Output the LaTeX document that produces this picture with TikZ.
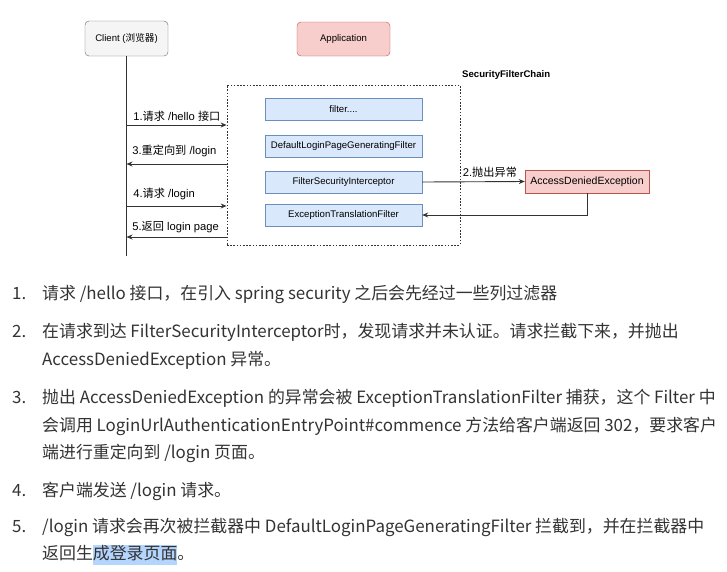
\documentclass[tikz,border=0pt]{standalone}
\usepackage{fontspec}
\setmainfont{Liberation Sans}
\newfontfamily\cjk{Noto Sans CJK SC}
\usetikzlibrary{positioning,arrows.meta,calc}
\definecolor{linegray}{HTML}{333333}
\definecolor{txtgray}{HTML}{333333}
\definecolor{grayfill}{HTML}{F5F5F5}
\definecolor{grayline}{HTML}{666666}
\definecolor{redfill}{HTML}{F8CECC}
\definecolor{redline}{HTML}{B85450}
\definecolor{bluefill}{HTML}{DAE8FC}
\definecolor{blueline}{HTML}{6C8EBF}
\definecolor{selblue}{HTML}{B4D5FE}
\newcommand\selmark[1]{{\setlength{\fboxsep}{0pt}\colorbox{selblue}{\strut #1}}}

\begin{document}
\begin{tikzpicture}[x=1pt, y=-1pt,
  actor/.style={draw=grayline, fill=grayfill, rounded corners=4pt, minimum width=83pt, minimum height=35pt, font=\fontsize{9.6}{11}\selectfont},
  appbox/.style={draw=redline, fill=redfill, rounded corners=4pt, minimum width=93pt, minimum height=34pt, font=\fontsize{9.6}{11}\selectfont},
  filterbox/.style={draw=blueline, fill=bluefill, minimum width=157pt, minimum height=22pt, font=\fontsize{9.6}{11}\selectfont},
  errbox/.style={draw=redline, fill=redfill, minimum width=124pt, minimum height=23pt, font=\fontsize{10.5}{12}\selectfont},
  lbl/.style={font=\fontsize{11.2}{13}\selectfont, text=black},
  arr/.style={draw=linegray, line width=0.9pt, -{Stealth[length=6pt,width=5pt]}},
  item/.style={anchor=base west, inner sep=0pt, text=txtgray, font=\cjk\fontsize{16.9}{20}\selectfont}
]
  \useasboundingbox (0,0) rectangle (727,571);

  % participants
  \node[actor] (client) at (126.5,38.5) {Client ({\cjk 浏览器})};
  \node[appbox] (app) at (343.5,39) {Application};

  % filter chain
  \node[draw=linegray, dash pattern=on 1.6pt off 1.6pt, line width=0.8pt, minimum width=233pt, minimum height=160pt] (chain) at (343.5,165) {};
  \node[anchor=south west, inner sep=2pt, font=\bfseries\fontsize{9.6}{11}\selectfont] (chainname) at (460,82) {SecurityFilterChain};
  \node[filterbox] (dots) at (343.5,109.5) {filter....};
  \node[filterbox] (dlpgf) at (343.5,146) {DefaultLoginPageGeneratingFilter};
  \node[filterbox] (fsi) at (343.5,182) {FilterSecurityInterceptor};
  \node[filterbox] (etf) at (343.5,215) {ExceptionTranslationFilter};
  \node[errbox] (ade) at (587,181.5) {AccessDeniedException};

  % lifeline
  \coordinate (lifeend) at (126.5,256);
  \draw[draw=linegray, line width=0.9pt] (client.south) -- (lifeend);
  \coordinate (m1) at (126.5,125);
  \coordinate (m3) at (126.5,164);
  \coordinate (m4) at (126.5,206);
  \coordinate (m5) at (126.5,237);

  % messages
  \draw[arr] (m1) -- node[lbl, pos=0, above right, xshift=3pt] {1.{\cjk 请求} /hello {\cjk 接口}} (m1 -| chain.west);
  \draw[arr] (m3 -| chain.west) -- node[lbl, pos=1, above right, xshift=2pt, yshift=3pt] {3.{\cjk 重定向到} /login} (m3);
  \draw[arr] (m4) -- node[lbl, pos=0, above right, xshift=3pt, yshift=2pt] {4.{\cjk 请求} /login} (m4 -| chain.west);
  \draw[arr] (m5 -| chain.west) -- node[lbl, pos=1, above right, xshift=2pt] {5.{\cjk 返回} login page} (m5);
  \draw[arr] (fsi.east) -- node[lbl, pos=1, anchor=south east, xshift=-4pt] {2.{\cjk 抛出异常}} (ade.west);
  \draw[arr] (ade.south) |- (etf.east);

  % steps
  \node[item] (n1) at (12,299) {1.};
  \node[item] (t1) at (42,299) {请求 /hello 接口，在引入 spring security 之后会先经过一些列过滤器};
  \node[item] (n2) at (12,337) {2.};
  \node[item] (t2) at (42,337) {在请求到达 FilterSecurityInterceptor时，发现请求并未认证。请求拦截下来，并抛出};
  \node[item] (t2b) at (42,365) {AccessDeniedException 异常。};
  \node[item] (n3) at (12,403) {3.};
  \node[item] (t3) at (42,403) {抛出 AccessDeniedException 的异常会被 ExceptionTranslationFilter 捕获，这个 Filter 中};
  \node[item] (t3b) at (42,431) {会调用 LoginUrlAuthenticationEntryPoint\#commence 方法给客户端返回 302，要求客户};
  \node[item] (t3c) at (42,458) {端进行重定向到 /login 页面。};
  \node[item] (n4) at (12,496) {4.};
  \node[item] (t4) at (42,496) {客户端发送 /login 请求。};
  \node[item] (n5) at (12,532) {5.};
  \node[item] (t5) at (42,532) {/login 请求会再次被拦截器中 DefaultLoginPageGeneratingFilter 拦截到，并在拦截器中};
  \node[item] (t5b) at (42,559) {返回生\selmark{成登录页面}。};
\end{tikzpicture}
\end{document}
